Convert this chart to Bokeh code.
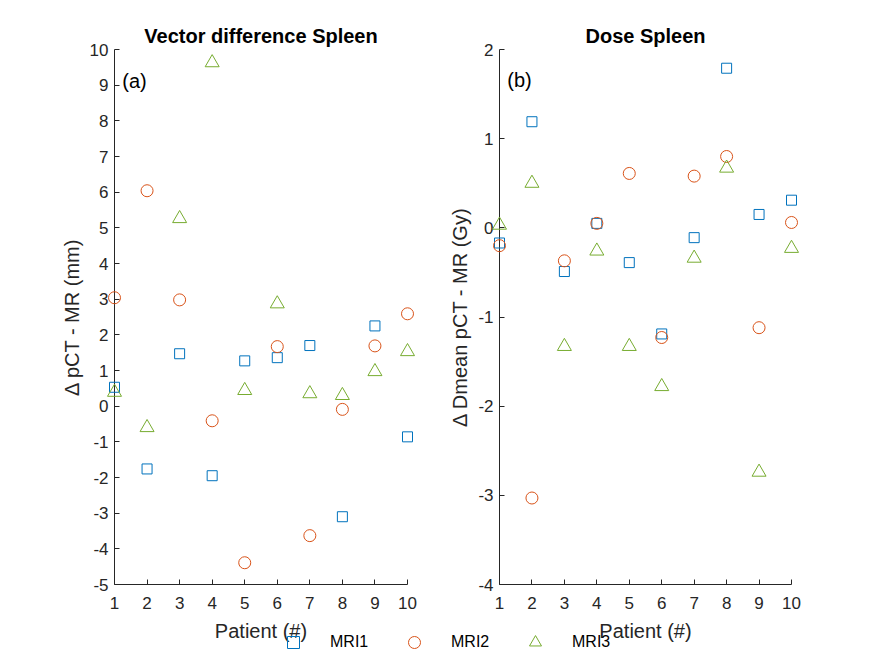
from bokeh.plotting import figure
from bokeh.models import FixedTicker, Legend, LegendItem, Label, Range1d
from bokeh.layouts import column, row
from bokeh.embed import file_html
from bokeh.resources import INLINE

# ---------------- data ----------------
patients = [1, 2, 3, 4, 5, 6, 7, 8, 9, 10]
x_ticks = [1, 2, 3, 4, 5, 6, 7, 8, 9, 10]
x_tick_labels = ["1", "2", "3", "4", "5", "6", "7", "8", "9", "10"]

series_names = ["MRI1", "MRI2", "MRI3"]
series_colors = ["#0072BD", "#D95319", "#77AC30"]
series_markers = ["square", "circle", "triangle"]
series_sizes = [10, 12, 14]

# Vector difference Spleen (mm)
vec_mri1 = [0.53, -1.76, 1.47, -1.95, 1.27, 1.36, 1.70, -3.10, 2.25, -0.86]
vec_mri2 = [3.04, 6.04, 2.98, -0.41, -4.39, 1.67, -3.63, -0.09, 1.69, 2.59]
vec_mri3 = [0.39, -0.60, 5.26, 9.63, 0.44, 2.87, 0.35, 0.30, 0.97, 1.53]
vec_ticks = [-5, -4, -3, -2, -1, 0, 1, 2, 3, 4, 5, 6, 7, 8, 9, 10]
vec_tick_labels = ["-5", "-4", "-3", "-2", "-1", "0", "1", "2", "3", "4",
                   "5", "6", "7", "8", "9", "10"]

# Dose Spleen (Gy)
dose_mri1 = [-0.17, 1.19, -0.49, 0.05, -0.39, -1.19, -0.11, 1.79, 0.15, 0.31]
dose_mri2 = [-0.20, -3.03, -0.37, 0.05, 0.61, -1.23, 0.58, 0.80, -1.12, 0.06]
dose_mri3 = [0.03, 0.50, -1.33, -0.26, -1.33, -1.78, -0.34, 0.67, -2.74, -0.23]
dose_ticks = [-4, -3, -2, -1, 0, 1, 2]
dose_tick_labels = ["-4", "-3", "-2", "-1", "0", "1", "2"]

FONT = "Liberation Sans"
AX = "#262626"


def make_panel(title, ylabel, series, yrange, yticks, ylabels, tag, tag_x, tag_y,
               width, mb_left, mb_right):
    p = figure(width=width, height=646, output_backend="svg", toolbar_location=None,
               x_range=Range1d(1, 10), y_range=Range1d(*yrange),
               min_border_left=mb_left, min_border_right=mb_right,
               min_border_top=49, min_border_bottom=62)
    p.outline_line_color = None
    p.grid.visible = False
    p.background_fill_color = "white"
    p.border_fill_color = "white"

    p.title.text = title
    p.title.align = "center"
    p.title.text_font = FONT
    p.title.text_font_size = "20px"
    p.title.text_font_style = "bold"
    p.title.text_color = "black"
    p.title.standoff = 6

    p.xaxis.ticker = FixedTicker(ticks=x_ticks)
    p.xaxis.major_label_overrides = {t: l for t, l in zip(x_ticks, x_tick_labels)}
    p.yaxis.ticker = FixedTicker(ticks=yticks)
    p.yaxis.major_label_overrides = {t: l for t, l in zip(yticks, ylabels)}
    p.xaxis.axis_label = "Patient (#)"
    p.yaxis.axis_label = ylabel
    for ax in (p.xaxis, p.yaxis):
        ax.axis_label_text_font = FONT
        ax.axis_label_text_font_size = "20px"
        ax.axis_label_text_font_style = "normal"
        ax.axis_label_text_color = AX
        ax.major_label_text_font = FONT
        ax.major_label_text_font_size = "17px"
        ax.major_label_text_color = AX
        ax.axis_line_color = AX
        ax.major_tick_line_color = AX
        ax.major_tick_in = 5
        ax.major_tick_out = 0
        ax.minor_tick_in = 0
        ax.minor_tick_out = 0
    p.xaxis.major_label_standoff = 12
    p.xaxis.axis_label_standoff = 8
    p.yaxis.major_label_standoff = 6
    p.yaxis.axis_label_standoff = 4

    for vals, color, marker, size in zip(series, series_colors, series_markers, series_sizes):
        p.scatter(patients, vals, marker=marker, size=size, fill_color=None,
                  line_color=color, line_width=1, level="overlay")

    p.add_layout(Label(x=tag_x, y=tag_y, text=tag, text_font=FONT,
                       text_font_size="20px", text_baseline="middle",
                       text_color="black"))
    return p


p1 = make_panel("Vector difference Spleen", "\u0394 pCT - MR (mm)",
                [vec_mri1, vec_mri2, vec_mri3], (-5, 10), vec_ticks, vec_tick_labels,
                "(a)", 1.24, 9.13, 445, 114, 38)
p2 = make_panel("Dose Spleen", "\u0394 Dmean pCT - MR (Gy)",
                [dose_mri1, dose_mri2, dose_mri3], (-4, 2), dose_ticks, dose_tick_labels,
                "(b)", 1.24, 1.66, 422, 54, 76)

# legend strip below both panels (its renderers lie outside its own ranges)
lf = figure(width=867, height=20, output_backend="svg", toolbar_location=None,
            x_axis_location=None, y_axis_location=None, min_border=0,
            x_range=Range1d(-3, -2), y_range=Range1d(-30, -20),
            margin=(-14, 0, 0, 0))
lf.outline_line_color = None
lf.grid.visible = False
lf.background_fill_alpha = 0
lf.border_fill_alpha = 0
items = []
for name, color, marker, vals in zip(series_names, series_colors, series_markers,
                                     [vec_mri1, vec_mri2, vec_mri3]):
    r = lf.scatter(x=patients, y=vals, marker=marker, size=12, fill_color=None,
                   line_color=color, line_width=1)
    items.append(LegendItem(label=name, renderers=[r]))
legend = Legend(items=items, orientation="horizontal", location=(278, -5),
                glyph_width=30, glyph_height=30, label_standoff=22, spacing=29,
                label_width=40, padding=0, margin=0, border_line_color=None,
                background_fill_alpha=0, label_text_font=FONT,
                label_text_font_size="16px", label_text_color="black")
lf.add_layout(legend)

layout = column(row(p1, p2), lf)
open("out.html", "w").write(file_html(layout, INLINE))
